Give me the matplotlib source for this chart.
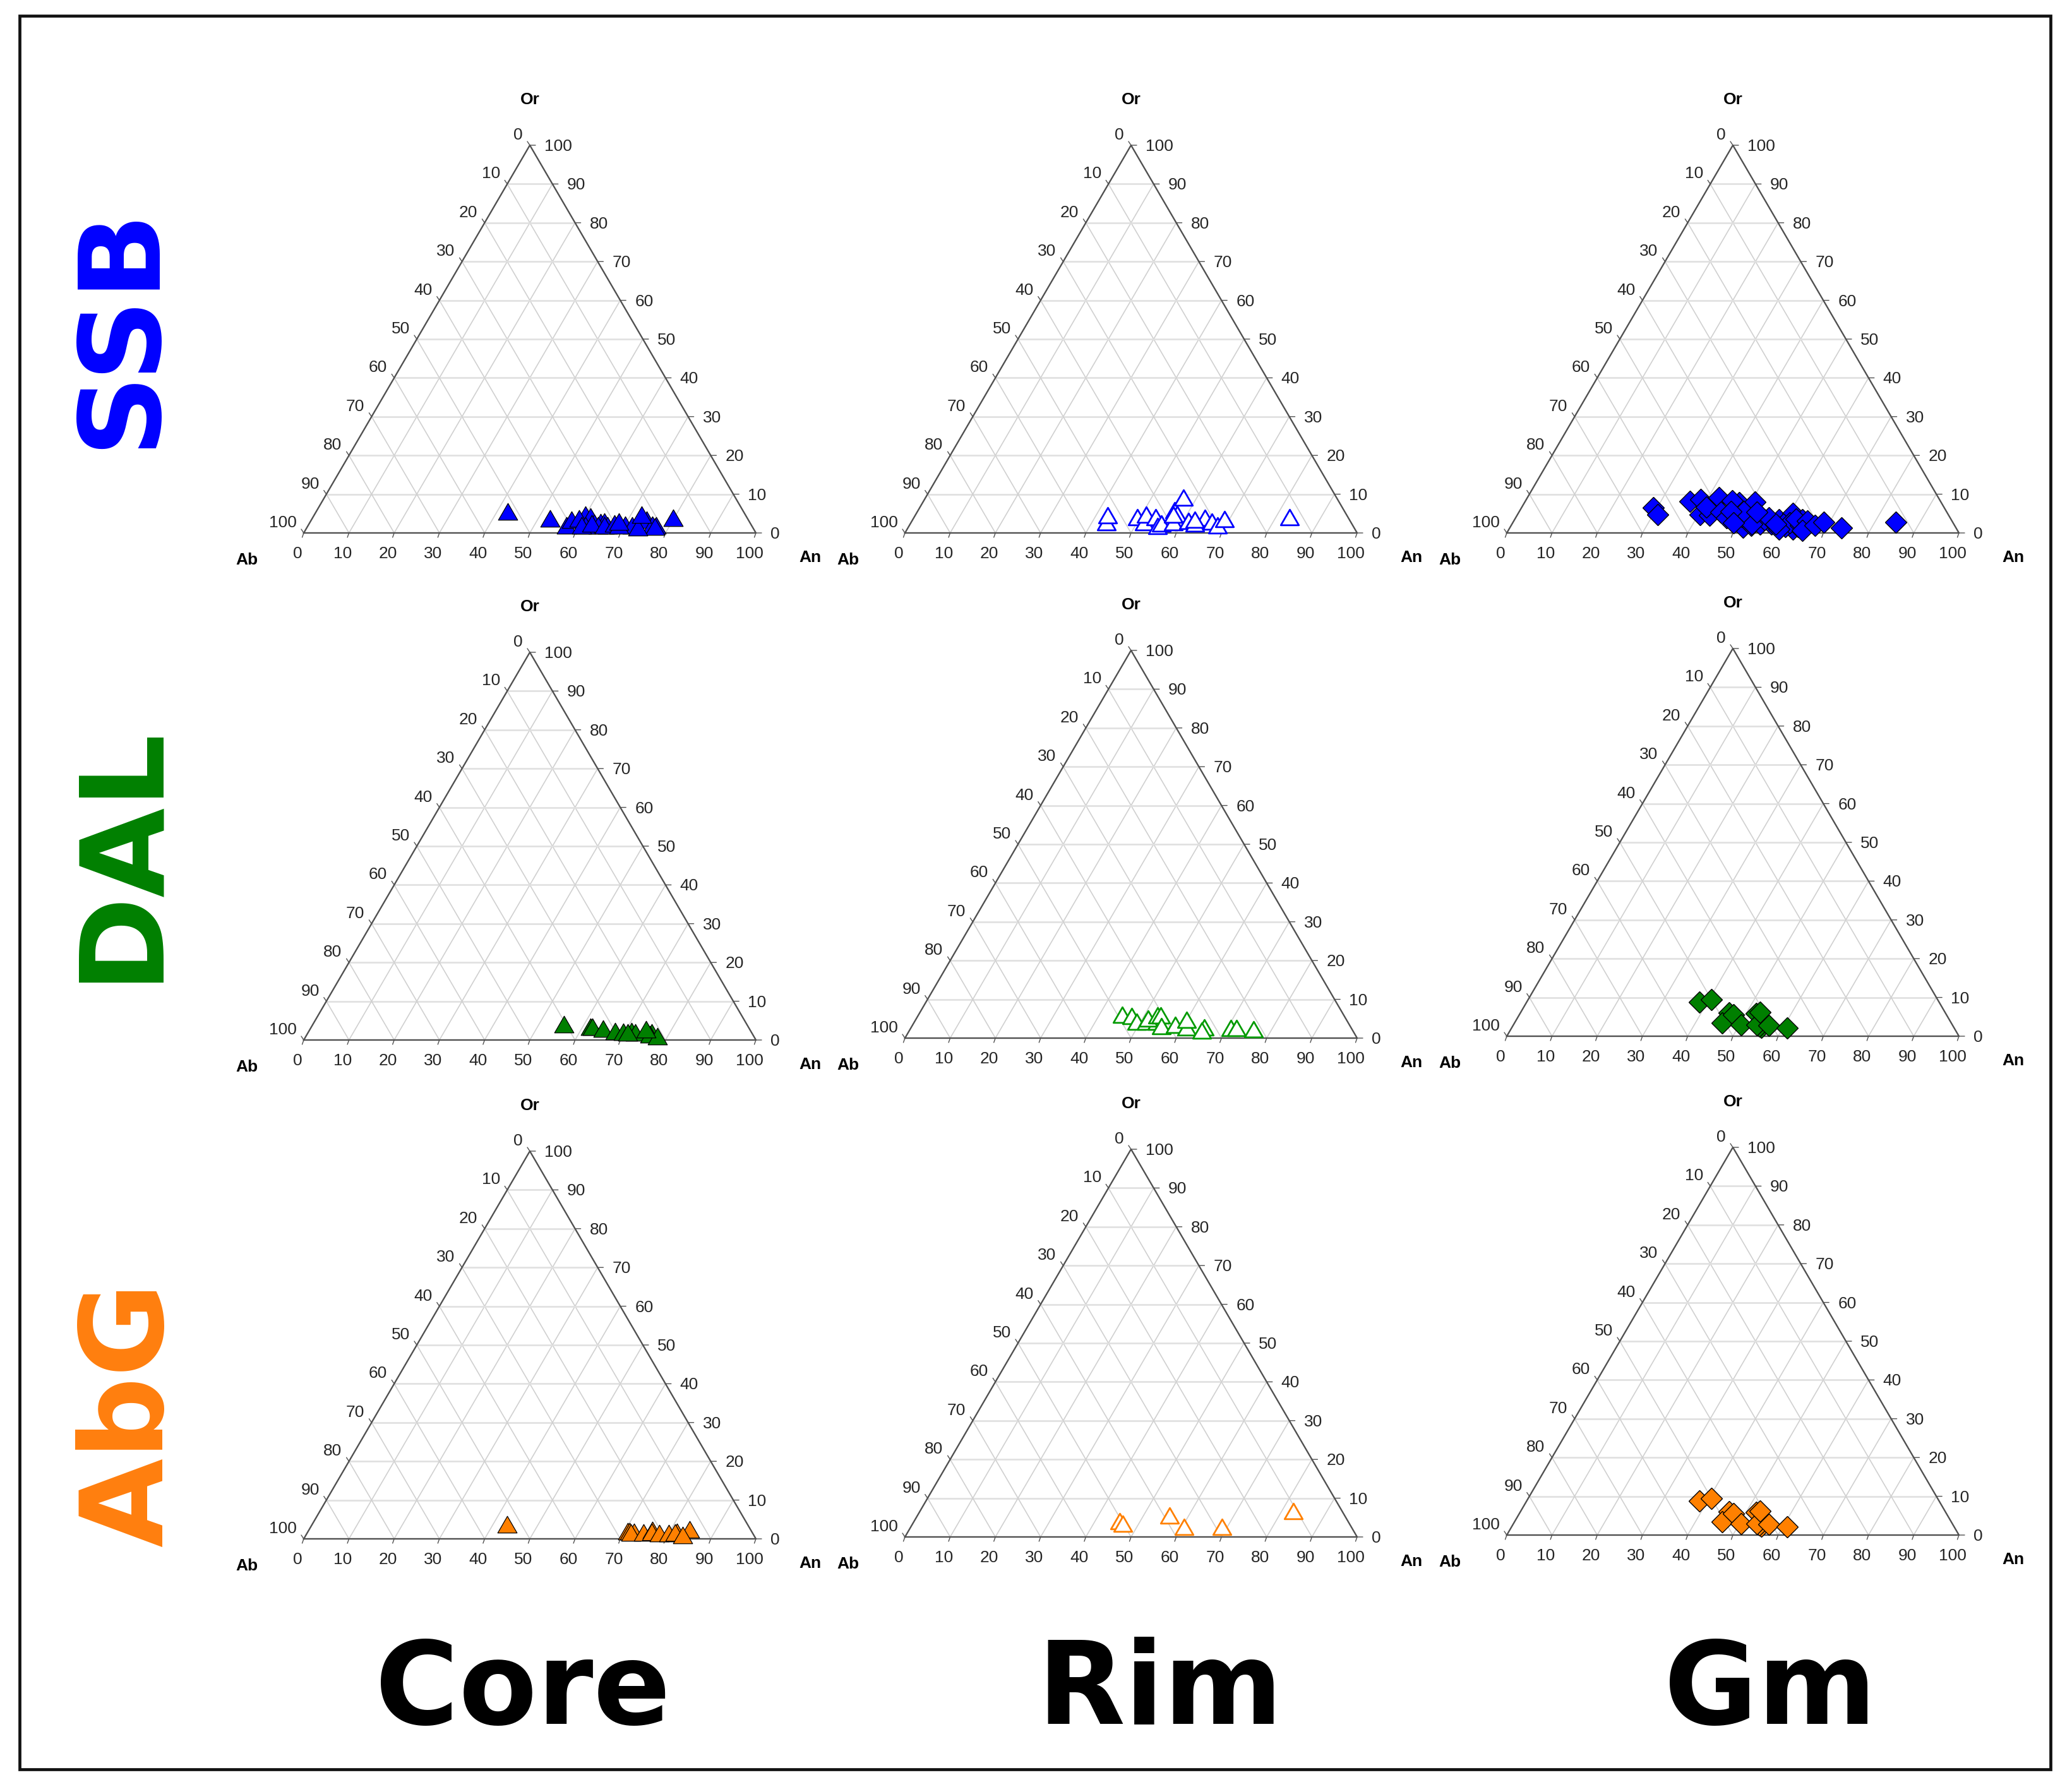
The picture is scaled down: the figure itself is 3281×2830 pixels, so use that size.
#Ternary feldspar plots, core / rim / groundmass for SSB, DAL, AbG

import matplotlib
matplotlib.use("Agg")
import matplotlib.pyplot as plt
from matplotlib.patches import Rectangle
from matplotlib.path import Path

plt.rcParams['font.family'] = ['Liberation Sans', 'DejaVu Sans']

# -----------------------------------------------------------#
# Data, An and Or in %
# -----------------------------------------------------------#
ssb_core_an = [42.3, 52.6, 57.1, 57.5, 60.0, 61.2, 59.0, 62.9, 64.2, 65.0, 64.1, 61.3, 66.2, 60.5, 62.5,
               65.5, 67.4, 70.1, 71.7, 68.8, 68.2, 74.2, 76.0, 76.9, 76.9, 73.2, 72.4, 79.7]
ssb_core_or = [5.5, 3.7, 2.0, 3.4, 4.7, 4.3, 3.8, 2.6, 2.8, 3.0, 2.0, 2.0, 2.0, 1.9, 2.4,
               1.9, 2.5, 2.1, 1.9, 1.9, 2.9, 3.4, 2.1, 2.0, 1.6, 1.5, 4.7, 3.9]

ssb_rim_an = [43.2, 42.5, 49.3, 51.6, 51.0, 53.4, 55.0, 55.5, 58.0, 56.7, 57.8, 57.1, 57.0,
              61.1, 62.8, 64.4, 66.4, 68.2, 62.4, 68.9, 83.0]
ssb_rim_or = [2.8, 4.6, 4.1, 2.8, 4.7, 4.1, 1.8, 2.5, 2.8, 5.9, 4.9, 9.1, 4.7,
              3.1, 2.5, 3.9, 2.9, 2.0, 3.5, 3.6, 4.1]

ssb_gm_an = [29.1, 31.0, 36.4, 40.4, 42.5, 38.5, 40.9, 42.4, 44.7, 47.5, 45.7, 50.9, 51.5, 53.0, 54.0,
             52.2, 49.8, 54.8, 57.3, 58.5, 59.5, 60.8, 62.8, 60.8, 63.6, 63.6, 65.1, 60.0, 61.3, 63.9,
             55.3, 53.0, 56.0, 62.2, 65.0, 59.7, 65.0, 46.6, 49.6, 46.8,
             67.1, 48.8, 52.6, 58.3, 68.8, 73.4, 84.6]
ssb_gm_or = [6.5, 4.7, 8.1, 4.7, 4.6, 8.7, 6.6, 9.1, 5.4, 7.8, 8.3, 8.0, 1.5, 2.0, 3.9,
             3.9, 4.2, 2.3, 2.3, 3.4, 1.5, 5.0, 0.9, 1.7, 3.4, 1.7, 2.3, 2.3, 2.6, 2.0,
             3.4, 2.3, 3.9, 3.6, 3.1, 0.9, 0.7, 3.9, 5.5, 5.5,
             2.0, 2.6, 5.3, 2.3, 2.7, 1.3, 2.8]

dal_core_an = [55.5, 61.6, 62.1, 64.8, 67.7, 69.6, 71.3, 72.4, 70.7, 76.0, 75.9, 77.7, 74.3]
dal_core_or = [4.1, 3.5, 3.4, 2.9, 2.3, 2.1, 2.3, 1.9, 1.9, 1.9, 1.4, 1.0, 2.7]

dal_rim_an = [45.0, 47.3, 49.2, 51.2, 53.6, 51.2, 53.0, 53.6, 55.2, 58.0, 60.9, 59.9, 64.8, 64.7, 70.7, 72.0, 75.9]
dal_rim_or = [6.1, 5.7, 4.2, 4.2, 4.2, 5.1, 5.8, 5.8, 3.1, 3.5, 2.8, 4.8, 2.7, 2.0, 2.6, 2.6, 2.3]

dal_gm_an = [38.2, 40.6, 46.1, 45.9, 47.4, 50.4, 52.2, 55.2, 54.5, 53.9, 56.5, 52.9, 61.0]
dal_gm_or = [8.8, 9.4, 6.0, 3.4, 5.6, 2.9, 5.9, 2.2, 2.6, 2.9, 2.8, 6.2, 2.1]

abg_core_an = [43.1, 70.7, 71.1, 72.1, 71.5, 74.3, 76.0, 76.1, 77.9, 80.0, 81.7, 81.3, 84.1, 83.3]
abg_core_or = [3.7, 2.0, 2.0, 1.8, 1.7, 1.7, 2.3, 1.8, 1.4, 1.4, 1.8, 1.6, 2.4, 1.0]

abg_rim_an = [45.5, 46.5, 55.7, 60.4, 68.8, 82.6]
abg_rim_or = [4.1, 3.4, 5.5, 2.6, 2.6, 6.7]

abg_gm_an = [38.2, 40.6, 46.1, 45.9, 47.4, 50.4, 52.2, 55.2, 54.5, 53.9, 56.5, 52.9, 61.0]
abg_gm_or = [8.8, 9.4, 6.0, 3.4, 5.6, 2.9, 5.9, 2.2, 2.6, 2.9, 2.8, 6.2, 2.1]

tick_values = [0, 10, 20, 30, 40, 50, 60, 70, 80, 90, 100]
rock_names = ["SSB", "DAL", "AbG"]
zone_names = ["Core", "Rim", "Gm"]

# -----------------------------------------------------------#
# Layout, in pixels of the final picture
# -----------------------------------------------------------#
FIG_W = 3281
FIG_H = 2830
DPI = 100
PX = 72 / DPI                                                   #points per pixel

col_left = [481, 1433, 2386]
row_base = [[844, 844, 844], [1647, 1644, 1641], [2437, 2434, 2431]]
TRI_W = 716
TRI_H = 614

BLUE = "#0000ff"
GREEN = "#007f00"
GREEN_RIM = "#009a00"
ORANGE = "#ff8000"
GRID_H = "#e0e0e0"
GRID_D = "#d0d0d0"
AXIS = "#505050"
TEXT = "#262626"
LABEL_SIZE = 19

triangle = Path([(-1, -0.866), (1, -0.866), (0, 0.866), (-1, -0.866)], closed=True)


def to_xy(an, orth):
    x = [a + o / 2 for a, o in zip(an, orth)]
    return x, list(orth)


def draw_frame(ax):
    # grid first, then the outline and ticks
    for v in tick_values[1:-1]:
        ax.plot([v / 2, 100 - v / 2], [v, v], color=GRID_H, lw=1.9, zorder=1)
        ax.plot([v, v + (100 - v) / 2], [0, 100 - v], color=GRID_D, lw=1.2, zorder=1)
        ax.plot([100 - v, (100 - v) / 2], [0, 100 - v], color=GRID_D, lw=1.2, zorder=1)
    ax.plot([0, 100, 50, 0], [0, 0, 100, 0], color=AXIS, lw=1.7, zorder=2, clip_on=False)

    tick_style = dict(arrowstyle="-", color=AXIS, lw=1.0, shrinkA=0, shrinkB=0)
    for v in tick_values:
        # bottom axis, An
        ax.annotate("", xy=(v, 0), xytext=(-2.5 * PX, -7 * PX), textcoords="offset points",
                    arrowprops=tick_style)
        ax.annotate(str(v), xy=(v, 0), xytext=(-10 * PX, -33 * PX), textcoords="offset points",
                    ha="center", va="center", fontsize=LABEL_SIZE, color=TEXT)
        # right axis, Or
        rx, ry = 100 - v / 2, v
        ax.annotate("", xy=(rx, ry), xytext=(9 * PX, 0), textcoords="offset points",
                    arrowprops=tick_style)
        ax.annotate(str(v), xy=(rx, ry), xytext=(23 * PX, -2 * PX), textcoords="offset points",
                    ha="left", va="center", fontsize=LABEL_SIZE, color=TEXT)
        # left axis, Ab
        lx, ly = (100 - v) / 2, 100 - v
        ax.annotate("", xy=(lx, ly), xytext=(-4 * PX, 6 * PX), textcoords="offset points",
                    arrowprops=tick_style)
        ax.annotate(str(v), xy=(lx, ly), xytext=(-11 * PX, 16 * PX), textcoords="offset points",
                    ha="right", va="center", fontsize=LABEL_SIZE, color=TEXT)

    ax.annotate("Or", xy=(50, 100), xytext=(0, 72 * PX), textcoords="offset points",
                ha="center", va="center", fontsize=LABEL_SIZE, fontweight="bold", color="black")
    ax.annotate("Ab", xy=(0, 0), xytext=(-90 * PX, -43 * PX), textcoords="offset points",
                ha="center", va="center", fontsize=LABEL_SIZE, fontweight="bold", color="black")
    ax.annotate("An", xy=(100, 0), xytext=(86 * PX, -39 * PX), textcoords="offset points",
                ha="center", va="center", fontsize=LABEL_SIZE, fontweight="bold", color="black")


def plot_core(ax, an, orth, color):
    x, y = to_xy(an, orth)
    ax.plot(x, y, linestyle="none", marker=triangle, ms=22, mfc=color, mec="black", mew=0.9,
            zorder=3, clip_on=False)


def plot_rim(ax, an, orth, color):
    x, y = to_xy(an, orth)
    ax.plot(x, y, linestyle="none", marker=triangle, ms=20.5, mfc="white", mec=color, mew=2.0,
            zorder=3, clip_on=False)


def plot_gm(ax, an, orth, color):
    x, y = to_xy(an, orth)
    ax.plot(x, y, linestyle="none", marker="D", ms=17.5, mfc=color, mec="black", mew=1.0,
            zorder=3, clip_on=False)


# -----------------------------------------------------------#
# Figure
# -----------------------------------------------------------#
fig = plt.figure(figsize=(FIG_W / DPI, FIG_H / DPI), dpi=DPI, facecolor="white")

axes = []
for r in range(3):
    line = []
    for c in range(3):
        ax = fig.add_axes([col_left[c] / FIG_W, 1 - row_base[r][c] / FIG_H, TRI_W / FIG_W, TRI_H / FIG_H])
        ax.set_xlim(0, 100)
        ax.set_ylim(0, 100)
        ax.axis("off")
        draw_frame(ax)
        line.append(ax)
    axes.append(line)

plot_core(axes[0][0], ssb_core_an, ssb_core_or, BLUE)
plot_rim(axes[0][1], ssb_rim_an, ssb_rim_or, BLUE)
plot_gm(axes[0][2], ssb_gm_an, ssb_gm_or, BLUE)

plot_core(axes[1][0], dal_core_an, dal_core_or, GREEN)
plot_rim(axes[1][1], dal_rim_an, dal_rim_or, GREEN_RIM)
plot_gm(axes[1][2], dal_gm_an, dal_gm_or, GREEN)

plot_core(axes[2][0], abg_core_an, abg_core_or, ORANGE)
plot_rim(axes[2][1], abg_rim_an, abg_rim_or, ORANGE)
plot_gm(axes[2][2], abg_gm_an, abg_gm_or, ORANGE)

# big labels
rock_colors = [BLUE, "#008000", "#ff7f0e"]
rock_x = [192, 192, 207]
rock_y = [518, 1350, 2240]
rock_size = [129, 132, 131]
for name, col, x, y, size in zip(rock_names, rock_colors, rock_x, rock_y, rock_size):
    fig.text(x / FIG_W, 1 - y / FIG_H, name, rotation=90, ha="center", va="center", color=col,
             fontsize=size, fontweight="bold", family="DejaVu Sans")

zone_x = [828, 1837, 2803]
for name, x in zip(zone_names, zone_x):
    fig.text(x / FIG_W, 1 - 2730 / FIG_H, name, ha="center", va="baseline", color="black",
             fontsize=130, fontweight="bold", family="DejaVu Sans")

fig.add_artist(Rectangle((31 / FIG_W, 1 - 2802 / FIG_H), 3216 / FIG_W, 2777 / FIG_H,
                         transform=fig.transFigure, fill=False, ec="#111111", lw=3.4))

fig.savefig("out.png", dpi=DPI, facecolor="white")
